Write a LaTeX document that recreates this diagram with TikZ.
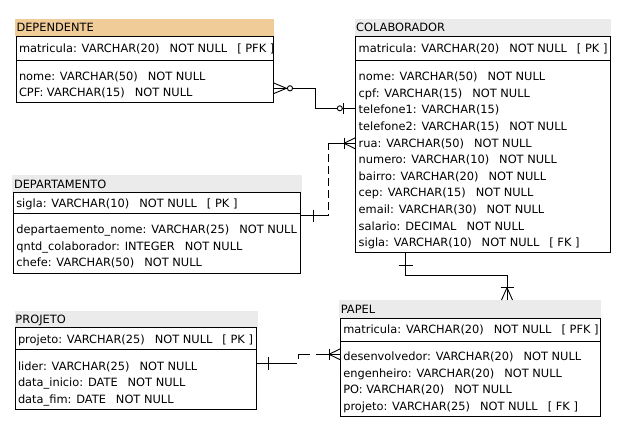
\documentclass[tikz,border=0pt]{standalone}
\usepackage{fontspec}
\setmainfont{DejaVu Sans}
\newcommand{\gp}{\hspace{10pt}}
\definecolor{bandgray}{RGB}{235,235,235}
\definecolor{bandorange}{RGB}{240,204,152}
\begin{document}
\begin{tikzpicture}[x=1pt,y=-1pt,
  ln/.style={line width=0.9pt, draw=black},
  tbox/.style={ln, anchor=north west, inner sep=0pt, outer sep=0pt},
  band/.style={anchor=south west, inner sep=0pt, outer sep=0pt, fill=bandgray},
  txt/.style={anchor=base west, inner sep=0pt, outer sep=0pt, font=\fontsize{11.4pt}{13pt}\selectfont},
  conn/.style={ln},
  endmark/.style={ln}]
\useasboundingbox (0,0) rectangle (631,444);

% ---------- DEPENDENTE ----------
\node[band, fill=bandorange, minimum width=259pt, minimum height=17.5pt] (depband) at (15,36.5) {};
\node[tbox, minimum width=257.7pt, minimum height=66pt] (dep) at (16,36.5) {};
\node[txt] (deptitle) at (16.5,31.2) {DEPENDENTE};
\draw[ln] (16,60.5) -- (273.7,60.5);
\node[txt] (dep1) at (19,52.2) {matricula: VARCHAR(20)\gp NOT NULL\gp [ PFK ]};
\node[txt] (dep2) at (19,80.7) {nome: VARCHAR(50)\gp NOT NULL};
\node[txt] (dep3) at (19,96.7) {CPF: VARCHAR(15)\gp NOT NULL};

% ---------- COLABORADOR ----------
\node[band, minimum width=256pt, minimum height=17.5pt] (colband) at (355,36.5) {};
\node[tbox, minimum width=254.3pt, minimum height=215.5pt] (col) at (355.7,36.5) {};
\node[txt] (coltitle) at (356.2,31.2) {COLABORADOR};
\draw[ln] (355.7,60.5) -- (610,60.5);
\node[txt] (col0) at (358.7,52.2) {matricula: VARCHAR(20)\gp NOT NULL\gp [ PK ]};
\node[txt] (col1) at (358.7,80.7) {nome: VARCHAR(50)\gp NOT NULL};
\node[txt] (col2) at (358.7,97.3) {cpf: VARCHAR(15)\gp NOT NULL};
\node[txt] (col3) at (358.7,113.9) {telefone1: VARCHAR(15)};
\node[txt] (col4) at (358.7,130.5) {telefone2: VARCHAR(15)\gp NOT NULL};
\node[txt] (col5) at (358.7,147.1) {rua: VARCHAR(50)\gp NOT NULL};
\node[txt] (col6) at (358.7,163.7) {numero: VARCHAR(10)\gp NOT NULL};
\node[txt] (col7) at (358.7,180.3) {bairro: VARCHAR(20)\gp NOT NULL};
\node[txt] (col8) at (358.7,196.9) {cep: VARCHAR(15)\gp NOT NULL};
\node[txt] (col9) at (358.7,213.5) {email: VARCHAR(30)\gp NOT NULL};
\node[txt] (col10) at (358.7,230.1) {salario: DECIMAL\gp NOT NULL};
\node[txt] (col11) at (358.7,246.7) {sigla: VARCHAR(10)\gp NOT NULL\gp [ FK ]};

% ---------- DEPARTAMENTO ----------
\node[band, minimum width=289.5pt, minimum height=18pt] (dptband) at (12,192.5) {};
\node[tbox, minimum width=287.2pt, minimum height=81pt] (dpt) at (13.3,192.5) {};
\node[txt] (dpttitle) at (14,188.2) {DEPARTAMENTO};
\draw[ln] (13.3,213.5) -- (300.5,213.5);
\node[txt] (dpt0) at (16.3,207.7) {sigla: VARCHAR(10)\gp NOT NULL\gp [ PK ]};
\node[txt] (dpt1) at (16.3,233.7) {departaemento\_nome: VARCHAR(25)\gp NOT NULL};
\node[txt] (dpt2) at (16.3,250.2) {qntd\_colaborador: INTEGER\gp NOT NULL};
\node[txt] (dpt3) at (16.3,266.7) {chefe: VARCHAR(50)\gp NOT NULL};

% ---------- PROJETO ----------
\node[band, minimum width=243.5pt, minimum height=17pt] (prjband) at (14.5,327.5) {};
\node[tbox, minimum width=241pt, minimum height=82pt] (prj) at (15,327.5) {};
\node[txt] (prjtitle) at (15.5,323.2) {PROJETO};
\draw[ln] (15,349.5) -- (256,349.5);
\node[txt] (prj0) at (18,343.2) {projeto: VARCHAR(25)\gp NOT NULL\gp [ PK ]};
\node[txt] (prj1) at (18,370.2) {lider: VARCHAR(25)\gp NOT NULL};
\node[txt] (prj2) at (18,386.7) {data\_inicio: DATE\gp NOT NULL};
\node[txt] (prj3) at (18,403.2) {data\_fim: DATE\gp NOT NULL};

% ---------- PAPEL ----------
\node[band, minimum width=261.7pt, minimum height=18pt] (papband) at (339.3,318) {};
\node[tbox, minimum width=259.7pt, minimum height=98pt] (pap) at (340.3,318) {};
\node[txt] (paptitle) at (340.8,313.2) {PAPEL};
\draw[ln] (340.3,341) -- (600,341);
\node[txt] (pap0) at (343.3,333.7) {matricula: VARCHAR(20)\gp NOT NULL\gp [ PFK ]};
\node[txt] (pap1) at (343.3,360.7) {desenvolvedor: VARCHAR(20)\gp NOT NULL};
\node[txt] (pap2) at (343.3,377.2) {engenheiro: VARCHAR(20)\gp NOT NULL};
\node[txt] (pap3) at (343.3,393.7) {PO: VARCHAR(20)\gp NOT NULL};
\node[txt] (pap4) at (343.3,410.2) {projeto: VARCHAR(25)\gp NOT NULL\gp [ FK ]};

% ---------- connectors ----------
% DEPENDENTE -- COLABORADOR
\coordinate (c1a) at (315.3,88.3);
\coordinate (c1b) at (315.3,108.3);
\draw[conn] (dep.east |- c1a) -- (c1a) -- (c1b) -- (col.west |- c1b);
\draw[endmark] (273.7,83) -- (286.5,88.3) -- (273.7,93.6);
\draw[endmark, fill=white] (290,88.3) circle (2.6);
\draw[endmark, fill=white] (339.8,108.3) circle (2.5);
\draw[endmark] (343.5,103) -- (343.5,113.5);

% DEPARTAMENTO -- COLABORADOR
\coordinate (c2a) at (328.3,215.7);
\coordinate (c2b) at (328.3,143.3);
\draw[conn, dash pattern=on 30pt off 4pt on 8pt off 4pt on 8pt off 4pt on 8pt off 4pt on 8pt off 4pt on 8pt off 4pt on 40pt]
  (dpt.east |- c2a) -- (c2a) -- (c2b) -- (col.west |- c2b);
\draw[endmark] (313.3,209.5) -- (313.3,222);
\draw[endmark] (344,137.5) -- (344,149);
\draw[endmark] (355.7,137.6) -- (344,143.3) -- (355.7,149);

% COLABORADOR -- PAPEL
\coordinate (c3a) at (405.7,275);
\coordinate (c3b) at (507,275);
\draw[conn] (col.south -| c3a) -- (c3a) -- (c3b) -- (papband.north -| c3b);
\draw[endmark] (398.5,265) -- (412.5,265);
\draw[endmark] (500.5,287.7) -- (513.5,287.7);
\draw[endmark] (501.5,300) -- (507,287.7) -- (512.5,300);

% PROJETO -- PAPEL
\coordinate (c4a) at (298.7,363.3);
\coordinate (c4b) at (298.7,354.3);
\draw[conn, dash pattern=on 41pt off 6.3pt on 16pt off 5.3pt on 40pt]
  (prj.east |- c4a) -- (c4a) -- (c4b) -- (pap.west |- c4b);
\draw[endmark] (268.3,357) -- (268.3,369.5);
\draw[endmark] (329,348.5) -- (329,360);
\draw[endmark] (340.3,348.8) -- (329,354.3) -- (340.3,359.8);
\end{tikzpicture}
\end{document}
